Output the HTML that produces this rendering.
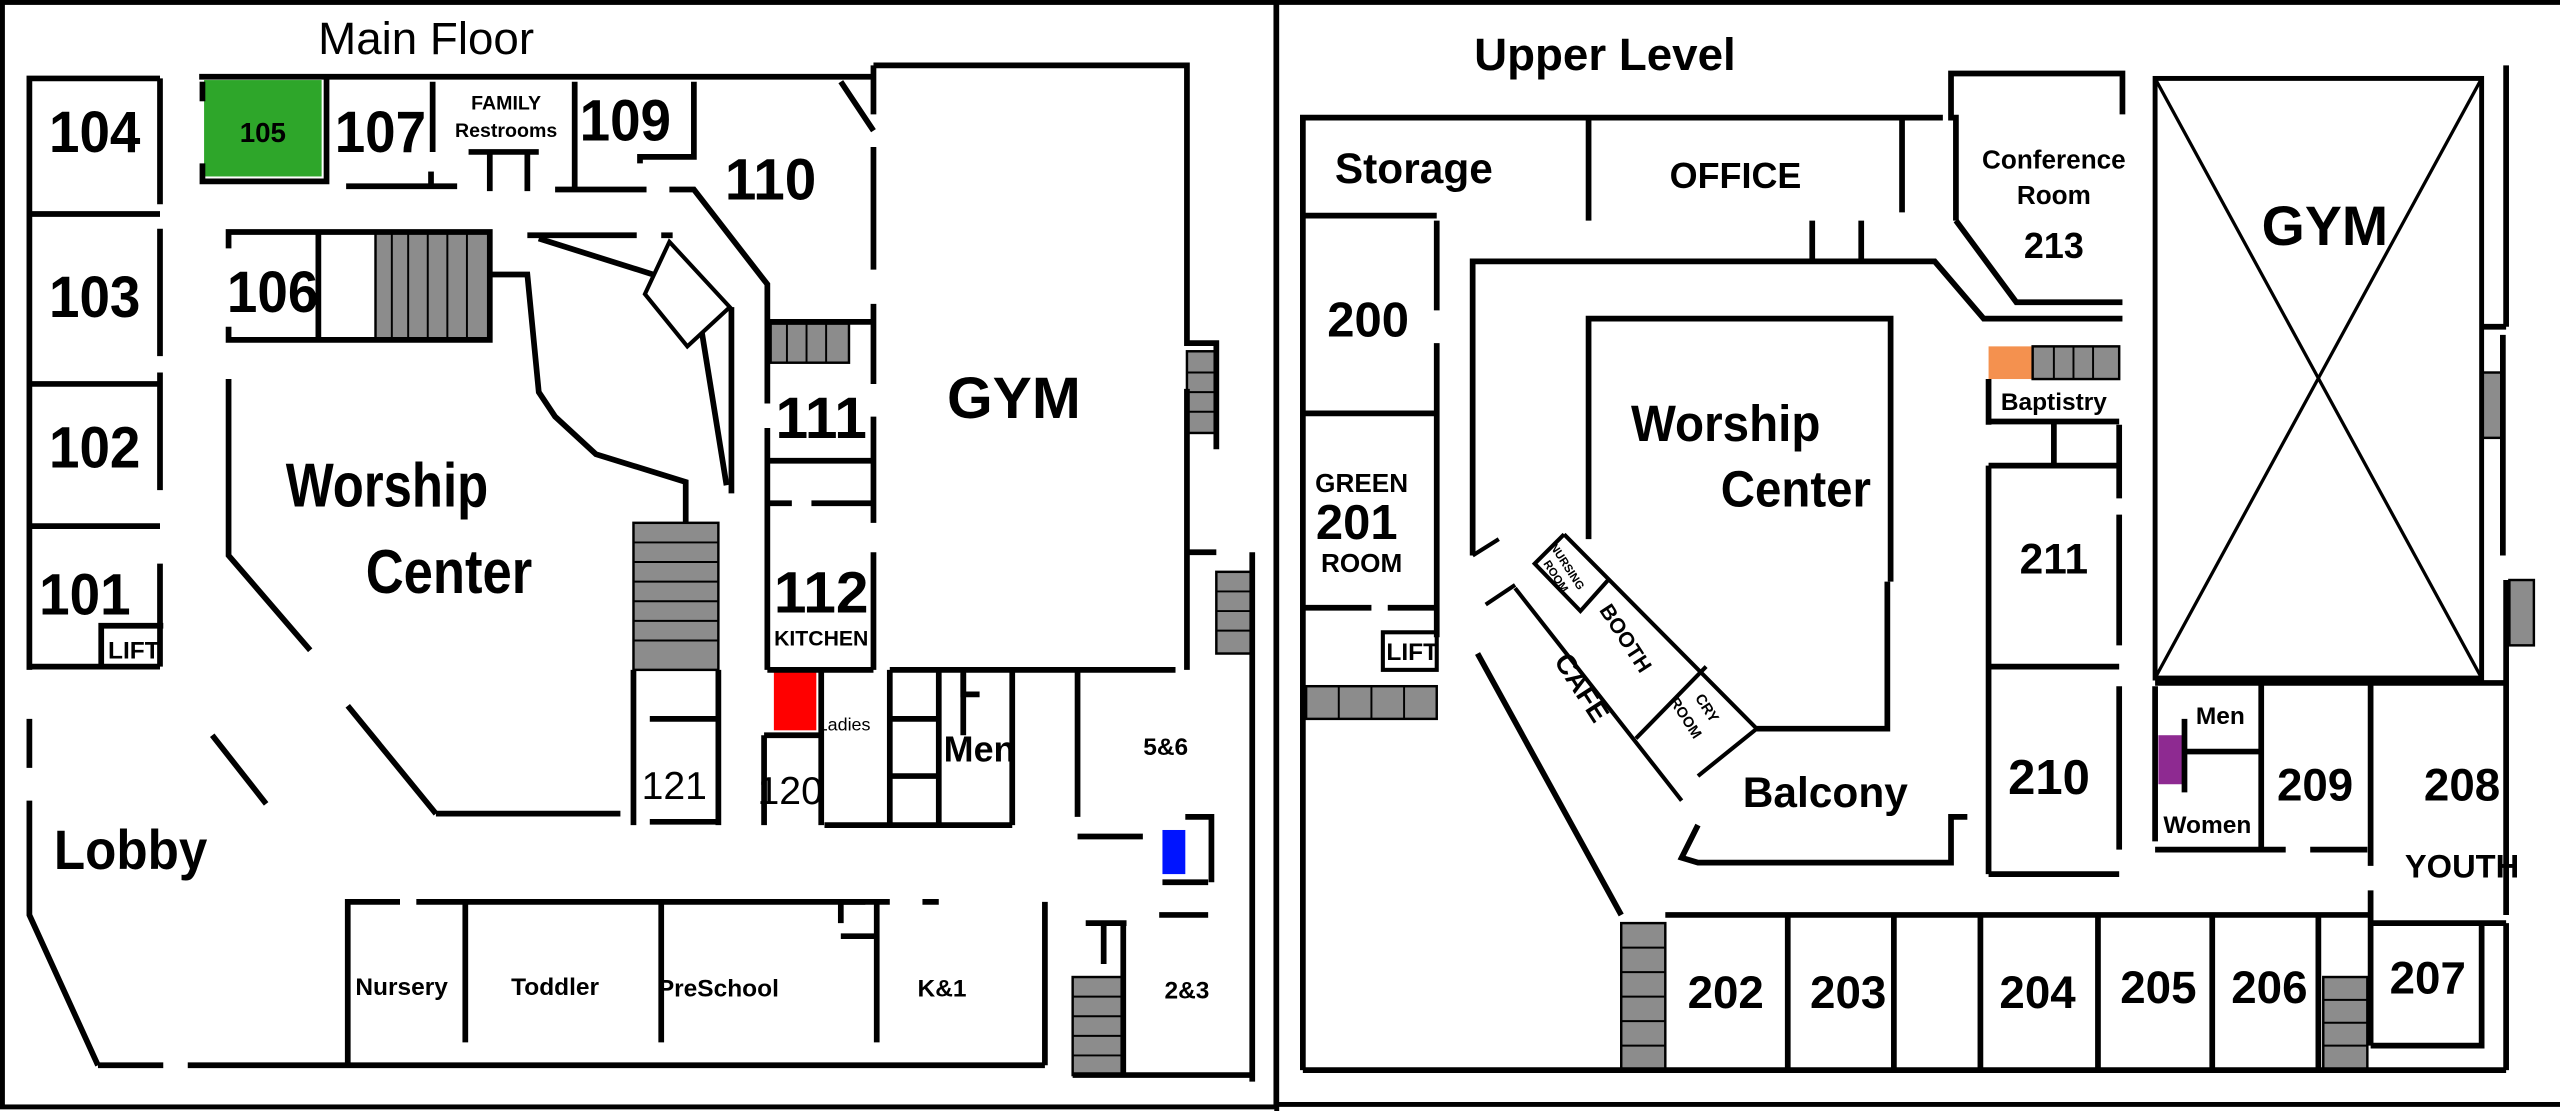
<!DOCTYPE html>
<html><head><meta charset="utf-8"><style>
html,body{margin:0;padding:0;background:#fff;}
svg{display:block;}
text{font-family:"Liberation Sans Narrow","Liberation Sans",sans-serif;font-weight:bold;fill:#000;}
</style></head><body>
<svg width="2560" height="1111" viewBox="0 0 1568 680" preserveAspectRatio="none" xmlns="http://www.w3.org/2000/svg">
<rect x="0" y="0" width="1568" height="680" fill="#fff"/>
<g fill="none" stroke="#000" stroke-width="3">
<rect x="1.5" y="1.5" width="780" height="676"/>
<line x1="782" y1="0" x2="782" y2="680"/>
<line x1="782" y1="676" x2="1568" y2="676"/>
<line x1="782" y1="1.5" x2="1568" y2="1.5"/>
</g>
<rect x="125" y="49" width="72" height="59" fill="#2ea62a"/>
<rect x="474" y="410" width="26" height="37" fill="#f00"/>
<rect x="712" y="508" width="14" height="27" fill="#0014ff"/>
<rect x="1218" y="212" width="27" height="20" fill="#f4914f"/>
<rect x="1322" y="450" width="16" height="30" fill="#8e2a91"/>
<g fill="#8c8c8c" stroke="#000" stroke-width="1.5">
<rect x="230" y="142" width="70" height="66"/>
<rect x="388" y="320" width="52" height="90"/>
<rect x="472" y="198" width="48" height="24"/>
<rect x="727" y="215" width="18" height="50"/>
<rect x="745" y="350" width="22" height="50"/>
<rect x="657" y="598" width="31" height="60"/>
<rect x="800" y="420" width="80" height="20"/>
<rect x="1245" y="212" width="53" height="20"/>
<rect x="993" y="565" width="27" height="90"/>
<rect x="1423" y="598" width="27" height="57"/>
<rect x="1520" y="228" width="13" height="40"/>
<rect x="1537" y="355" width="15" height="40"/>
</g>
<g stroke="#000" stroke-width="1.2">
<line x1="240" y1="142" x2="240" y2="208"/><line x1="250" y1="142" x2="250" y2="208"/><line x1="262" y1="142" x2="262" y2="208"/><line x1="274" y1="142" x2="274" y2="208"/><line x1="286" y1="142" x2="286" y2="208"/>
<line x1="388" y1="332" x2="440" y2="332"/><line x1="388" y1="344" x2="440" y2="344"/><line x1="388" y1="356" x2="440" y2="356"/><line x1="388" y1="368" x2="440" y2="368"/><line x1="388" y1="380" x2="440" y2="380"/><line x1="388" y1="392" x2="440" y2="392"/>
<line x1="482" y1="198" x2="482" y2="222"/><line x1="494" y1="198" x2="494" y2="222"/><line x1="506" y1="198" x2="506" y2="222"/>
<line x1="727" y1="228" x2="745" y2="228"/><line x1="727" y1="240" x2="745" y2="240"/><line x1="727" y1="252" x2="745" y2="252"/>
<line x1="745" y1="362" x2="767" y2="362"/><line x1="745" y1="374" x2="767" y2="374"/><line x1="745" y1="386" x2="767" y2="386"/>
<line x1="657" y1="610" x2="688" y2="610"/><line x1="657" y1="622" x2="688" y2="622"/><line x1="657" y1="634" x2="688" y2="634"/><line x1="657" y1="646" x2="688" y2="646"/>
<line x1="820" y1="420" x2="820" y2="440"/><line x1="840" y1="420" x2="840" y2="440"/><line x1="860" y1="420" x2="860" y2="440"/>
<line x1="1258" y1="212" x2="1258" y2="232"/><line x1="1270" y1="212" x2="1270" y2="232"/><line x1="1282" y1="212" x2="1282" y2="232"/>
<line x1="993" y1="580" x2="1020" y2="580"/><line x1="993" y1="595" x2="1020" y2="595"/><line x1="993" y1="610" x2="1020" y2="610"/><line x1="993" y1="625" x2="1020" y2="625"/><line x1="993" y1="640" x2="1020" y2="640"/>
<line x1="1423" y1="612" x2="1450" y2="612"/><line x1="1423" y1="626" x2="1450" y2="626"/><line x1="1423" y1="640" x2="1450" y2="640"/>
</g>
<g fill="none" stroke="#000" stroke-width="3.5">
<polyline points="98,48 18,48 18,410"/>
<line x1="98" y1="48" x2="98" y2="125"/><line x1="98" y1="140" x2="98" y2="218"/><line x1="98" y1="228" x2="98" y2="300"/><line x1="98" y1="345" x2="98" y2="408"/>
<line x1="18" y1="131" x2="98" y2="131"/><line x1="18" y1="235" x2="98" y2="235"/><line x1="18" y1="322" x2="98" y2="322"/><line x1="18" y1="408" x2="98" y2="408"/>
<polyline points="62,408 62,383 100,383"/>
<line x1="18" y1="440" x2="18" y2="470"/>
<polyline points="18,490 18,560 60,652"/>
<line x1="122" y1="47" x2="535" y2="47"/>
<line x1="124" y1="50" x2="124" y2="62"/>
<polyline points="124,100 124,111 200,111 200,47"/>
<line x1="265" y1="50" x2="265" y2="93"/>
<line x1="212" y1="114" x2="280" y2="114"/><line x1="264" y1="105" x2="264" y2="114"/>
<line x1="287" y1="93" x2="330" y2="93"/><line x1="300" y1="93" x2="300" y2="117"/><line x1="323" y1="93" x2="323" y2="117"/>
<line x1="352" y1="50" x2="352" y2="116"/>
<line x1="340" y1="116" x2="396" y2="116"/>
<polyline points="425,50 425,96 392,96 392,100"/>
<polyline points="410,116 425,116 470,174 470,247"/>
<polyline points="515,50 535,80"/>
<line x1="470" y1="262" x2="470" y2="410"/>
<polyline points="140,152 140,142 300,142 300,208 140,208 140,200"/>
<line x1="195" y1="142" x2="195" y2="208"/>
<polyline points="300,168 323,168 330,240 340,255 365,278 420,295 420,320"/>
<polyline points="323,144 390,144"/><line x1="405" y1="144" x2="412" y2="144"/>
<polyline points="330,146 400,168"/>
<polygon points="410,148 447,188 421,212 395,180" stroke-width="2.5"/>
<polyline points="430,204 445,297"/>
<polyline points="448,188 448,302"/>
<polyline points="140,232 140,340 190,398"/>
<line x1="213" y1="432" x2="267" y2="498"/><line x1="267" y1="498" x2="380" y2="498"/>
<line x1="388" y1="410" x2="388" y2="505"/><line x1="440" y1="410" x2="440" y2="505"/>
<line x1="398" y1="440" x2="440" y2="440"/><line x1="398" y1="503" x2="440" y2="503"/>
<line x1="535" y1="40" x2="535" y2="70"/><line x1="535" y1="90" x2="535" y2="165"/><line x1="535" y1="186" x2="535" y2="235"/><line x1="535" y1="255" x2="535" y2="320"/><line x1="535" y1="338" x2="535" y2="410"/>
<polyline points="535,40 727,40 727,210 745,210 745,275"/>
<line x1="727" y1="238" x2="727" y2="410"/>
<polyline points="727,338 745,338"/><line x1="767" y1="338" x2="767" y2="662"/>
<line x1="470" y1="197" x2="535" y2="197"/><line x1="470" y1="282" x2="535" y2="282"/>
<line x1="470" y1="308" x2="485" y2="308"/><line x1="497" y1="308" x2="535" y2="308"/>
<line x1="470" y1="410" x2="535" y2="410"/>
<line x1="545" y1="410" x2="720" y2="410"/>
<line x1="468" y1="450" x2="502" y2="450"/><line x1="468" y1="450" x2="468" y2="505"/><line x1="503" y1="410" x2="503" y2="505"/>
<line x1="545" y1="410" x2="545" y2="505"/><line x1="575" y1="410" x2="575" y2="505"/>
<polyline points="545,440 575,440"/><polyline points="545,475 575,475"/>
<polyline points="590,410 590,450"/><polyline points="590,412 590,425 600,425"/>
<line x1="620" y1="410" x2="620" y2="505"/>
<line x1="505" y1="505" x2="620" y2="505"/>
<line x1="660" y1="410" x2="660" y2="500"/><line x1="660" y1="512" x2="700" y2="512"/>
<polyline points="726,500 742,500 742,540"/><line x1="712" y1="540" x2="740" y2="540"/>
<line x1="710" y1="560" x2="740" y2="560"/>
<polyline points="213,652 213,552 245,552"/><line x1="255" y1="552" x2="530" y2="552"/>
<line x1="285" y1="552" x2="285" y2="638"/><line x1="405" y1="552" x2="405" y2="638"/><line x1="537" y1="552" x2="537" y2="638"/>
<polyline points="515,565 515,552 545,552"/><line x1="515" y1="573" x2="537" y2="573"/>
<line x1="565" y1="552" x2="575" y2="552"/>
<line x1="640" y1="552" x2="640" y2="652"/>
<line x1="60" y1="652" x2="100" y2="652"/><line x1="115" y1="652" x2="640" y2="652"/>
<line x1="665" y1="565" x2="690" y2="565"/><line x1="688" y1="565" x2="688" y2="658"/><line x1="676" y1="565" x2="676" y2="590"/>
<line x1="657" y1="658" x2="767" y2="658"/>
<line x1="130" y1="450" x2="163" y2="492"/>
</g>
<g fill="none" stroke="#000" stroke-width="3.5">
<polyline points="798,655 798,72 1190,72"/>
<line x1="798" y1="132" x2="880" y2="132"/>
<line x1="973" y1="72" x2="973" y2="135"/><line x1="1165" y1="72" x2="1165" y2="130"/>
<line x1="1110" y1="135" x2="1110" y2="160"/><line x1="1140" y1="135" x2="1140" y2="160"/>
<line x1="880" y1="135" x2="880" y2="190"/><line x1="880" y1="210" x2="880" y2="390"/>
<polyline points="902,340 902,160 1185,160 1215,195 1300,195"/>
<line x1="798" y1="253" x2="880" y2="253"/>
<line x1="798" y1="372" x2="840" y2="372"/><line x1="850" y1="372" x2="880" y2="372"/>
<rect x="847" y="387" width="33" height="23" stroke-width="2.5"/>
<polyline points="1198,135 1198,72 1195,72 1195,45 1300,45 1300,70"/>
<polyline points="1198,135 1235,185 1300,185"/>
<rect x="1320" y="48" width="200" height="367" stroke-width="3"/>
<line x1="1320" y1="48" x2="1520" y2="415" stroke-width="2"/><line x1="1520" y1="48" x2="1320" y2="415" stroke-width="2"/>
<polyline points="1535,40 1535,200"/><line x1="1533" y1="205" x2="1533" y2="340"/><line x1="1535" y1="355" x2="1535" y2="560"/>
<line x1="1520" y1="200" x2="1535" y2="200"/>
<polyline points="973,330 973,195 1158,195 1158,356"/>
<polyline points="1156,356 1156,446 1076,446"/>
<line x1="1218" y1="232" x2="1218" y2="260"/><line x1="1218" y1="285" x2="1218" y2="535"/>
<line x1="1218" y1="258" x2="1298" y2="258"/><line x1="1258" y1="258" x2="1258" y2="285"/>
<line x1="1218" y1="285" x2="1298" y2="285"/><line x1="1218" y1="408" x2="1298" y2="408"/><line x1="1218" y1="535" x2="1298" y2="535"/>
<line x1="1298" y1="260" x2="1298" y2="305"/><line x1="1298" y1="315" x2="1298" y2="395"/><line x1="1298" y1="420" x2="1298" y2="520"/>
<line x1="1320" y1="418" x2="1535" y2="418"/>
<line x1="1320" y1="420" x2="1320" y2="515"/>
<line x1="1338" y1="460" x2="1385" y2="460"/><line x1="1338" y1="440" x2="1338" y2="485"/>
<line x1="1385" y1="418" x2="1385" y2="520"/>
<line x1="1320" y1="520" x2="1400" y2="520"/><line x1="1415" y1="520" x2="1450" y2="520"/>
<line x1="1452" y1="418" x2="1452" y2="530"/><line x1="1452" y1="545" x2="1452" y2="640"/>
<line x1="1452" y1="565" x2="1535" y2="565"/>
<polyline points="1452,640 1520,640 1520,565"/>
<polyline points="1040,505 1030,525 1040,528 1195,528 1195,500 1205,500"/>
<line x1="1020" y1="560" x2="1452" y2="560"/>
<line x1="1095" y1="560" x2="1095" y2="655"/><line x1="1160" y1="560" x2="1160" y2="655"/><line x1="1213" y1="560" x2="1213" y2="655"/>
<line x1="1285" y1="560" x2="1285" y2="655"/><line x1="1355" y1="560" x2="1355" y2="655"/><line x1="1420" y1="560" x2="1420" y2="655"/>
<line x1="798" y1="655" x2="1535" y2="655"/>
<polyline points="1535,565 1535,655"/>
<polyline points="902,340 918,330" stroke-width="2.5"/>
<polyline points="905,400 993,560"/>
<polyline points="910,370 928,358" stroke-width="2.5"/>
</g>
<g fill="none" stroke="#000" stroke-width="2.5">
<polyline points="958,327 1076,446 1040,475"/>
<polyline points="958,327 940,345 968,374 985,355"/>
<line x1="928" y1="360" x2="1030" y2="490"/>
<line x1="1002" y1="452" x2="1045" y2="408"/>
</g>
<text x="261" y="33" font-size="28" text-anchor="middle" style="font-weight:normal">Main Floor</text>
<text x="58" y="93" font-size="36" text-anchor="middle" textLength="56" lengthAdjust="spacingAndGlyphs">104</text>
<text x="161" y="87" font-size="17" text-anchor="middle">105</text>
<text x="233" y="93" font-size="36" text-anchor="middle" textLength="56" lengthAdjust="spacingAndGlyphs">107</text>
<text x="310" y="67" font-size="12" text-anchor="middle">FAMILY</text>
<text x="310" y="84" font-size="12" text-anchor="middle">Restrooms</text>
<text x="383" y="86" font-size="36" text-anchor="middle" textLength="56" lengthAdjust="spacingAndGlyphs">109</text>
<text x="472" y="122" font-size="36" text-anchor="middle" textLength="56" lengthAdjust="spacingAndGlyphs">110</text>
<text x="58" y="194" font-size="36" text-anchor="middle" textLength="56" lengthAdjust="spacingAndGlyphs">103</text>
<text x="167" y="191" font-size="36" text-anchor="middle" textLength="56" lengthAdjust="spacingAndGlyphs">106</text>
<text x="58" y="286" font-size="36" text-anchor="middle" textLength="56" lengthAdjust="spacingAndGlyphs">102</text>
<text x="52" y="376" font-size="36" text-anchor="middle" textLength="56" lengthAdjust="spacingAndGlyphs">101</text>
<text x="82" y="403" font-size="15" text-anchor="middle">LIFT</text>
<text x="237" y="310" font-size="38" text-anchor="middle" textLength="124" lengthAdjust="spacingAndGlyphs">Worship</text>
<text x="275" y="363" font-size="38" text-anchor="middle" textLength="102" lengthAdjust="spacingAndGlyphs">Center</text>
<text x="621" y="256" font-size="36" text-anchor="middle" style="font-family:'Liberation Sans',sans-serif">GYM</text>
<text x="503" y="268" font-size="36" text-anchor="middle" textLength="56" lengthAdjust="spacingAndGlyphs">111</text>
<text x="503" y="375" font-size="36" text-anchor="middle" textLength="58" lengthAdjust="spacingAndGlyphs">112</text>
<text x="503" y="395" font-size="13" text-anchor="middle">KITCHEN</text>
<text x="413" y="489" font-size="24" text-anchor="middle" style="font-weight:normal">121</text>
<text x="484" y="492" font-size="24" text-anchor="middle" style="font-weight:normal">120</text>
<text x="517" y="447" font-size="11" text-anchor="middle" style="font-weight:normal">Ladies</text>
<text x="600" y="466" font-size="22" text-anchor="middle">Men</text>
<text x="714" y="462" font-size="15" text-anchor="middle">5&amp;6</text>
<text x="80" y="532" font-size="34" text-anchor="middle" textLength="94" lengthAdjust="spacingAndGlyphs">Lobby</text>
<text x="246" y="609" font-size="15" text-anchor="middle">Nursery</text>
<text x="340" y="609" font-size="15" text-anchor="middle">Toddler</text>
<text x="440" y="610" font-size="15" text-anchor="middle">PreSchool</text>
<text x="577" y="610" font-size="15" text-anchor="middle">K&amp;1</text>
<text x="727" y="611" font-size="15" text-anchor="middle">2&amp;3</text>
<text x="983" y="43" font-size="28" text-anchor="middle">Upper Level</text>
<text x="866" y="112" font-size="26" text-anchor="middle">Storage</text>
<text x="1063" y="115" font-size="22" text-anchor="middle">OFFICE</text>
<text x="1258" y="103" font-size="16" text-anchor="middle">Conference</text>
<text x="1258" y="125" font-size="16" text-anchor="middle">Room</text>
<text x="1258" y="158" font-size="22" text-anchor="middle">213</text>
<text x="1424" y="150" font-size="34" text-anchor="middle" style="font-family:'Liberation Sans',sans-serif">GYM</text>
<text x="838" y="206" font-size="30" text-anchor="middle">200</text>
<text x="834" y="301" font-size="16" text-anchor="middle">GREEN</text>
<text x="831" y="330" font-size="30" text-anchor="middle">201</text>
<text x="834" y="350" font-size="16" text-anchor="middle">ROOM</text>
<text x="865" y="404" font-size="15" text-anchor="middle">LIFT</text>
<text x="1057" y="270" font-size="31" text-anchor="middle" textLength="116" lengthAdjust="spacingAndGlyphs">Worship</text>
<text x="1100" y="310" font-size="31" text-anchor="middle" textLength="92" lengthAdjust="spacingAndGlyphs">Center</text>
<text x="1258" y="251" font-size="15" text-anchor="middle">Baptistry</text>
<text x="1258" y="351" font-size="26" text-anchor="middle">211</text>
<text x="1255" y="486" font-size="30" text-anchor="middle">210</text>
<text x="1360" y="443" font-size="15" text-anchor="middle">Men</text>
<text x="1352" y="510" font-size="15" text-anchor="middle">Women</text>
<text x="1418" y="490" font-size="28" text-anchor="middle">209</text>
<text x="1508" y="490" font-size="28" text-anchor="middle">208</text>
<text x="1508" y="537" font-size="20" text-anchor="middle">YOUTH</text>
<text x="1487" y="608" font-size="28" text-anchor="middle">207</text>
<text x="1118" y="494" font-size="26" text-anchor="middle">Balcony</text>
<text x="1057" y="617" font-size="28" text-anchor="middle">202</text>
<text x="1132" y="617" font-size="28" text-anchor="middle">203</text>
<text x="1248" y="617" font-size="28" text-anchor="middle">204</text>
<text x="1322" y="614" font-size="28" text-anchor="middle">205</text>
<text x="1390" y="614" font-size="28" text-anchor="middle">206</text>
<text transform="translate(958,348) rotate(57)" font-size="7" text-anchor="middle">NURSING</text>
<text transform="translate(951,354) rotate(57)" font-size="7" text-anchor="middle">ROOM</text>
<text transform="translate(992,393) rotate(57)" font-size="13" text-anchor="middle">BOOTH</text>
<text transform="translate(964,424) rotate(57)" font-size="17" text-anchor="middle">CAFE</text>
<text transform="translate(1043,435) rotate(57)" font-size="9" text-anchor="middle">CRY</text>
<text transform="translate(1030,441) rotate(57)" font-size="9" text-anchor="middle">ROOM</text>
</svg>
</body></html>
